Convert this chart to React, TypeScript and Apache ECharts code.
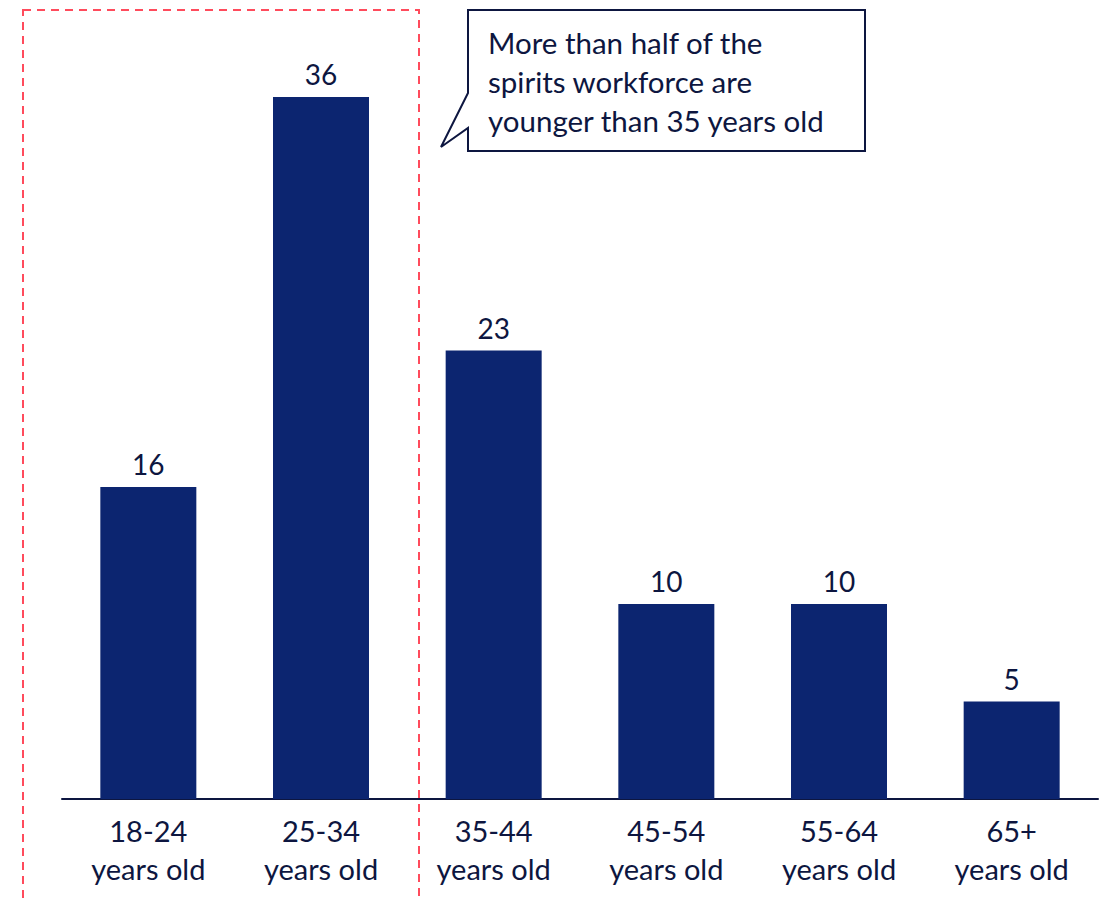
import React, { useEffect, useRef } from "react";
import * as echarts from "echarts";

// Share of the spirits workforce by age band (%)
const ageBands = ["18-24\nyears old", "25-34\nyears old", "35-44\nyears old", "45-54\nyears old", "55-64\nyears old", "65+\nyears old"];
const workforceShare = [16, 36, 23, 10, 10, 5];
const calloutLines = ["More than half of the", "spirits workforce are", "younger than 35 years old"];

const NAVY = "#0C2570";
const INK = "#0D1640";
const FONT = "Lato, 'Noto Sans', sans-serif";

export default function App() {
  const ref = useRef<HTMLDivElement>(null);

  useEffect(() => {
    if (!ref.current) return;
    const chart = echarts.init(ref.current, null, { renderer: "svg" });
    chart.setOption({
      animation: false,
      backgroundColor: "#ffffff",
      grid: { left: 62, right: 11, top: 97, bottom: 101, containLabel: false },
      xAxis: {
        type: "category",
        data: ageBands,
        axisLine: { lineStyle: { color: INK, width: 2 } },
        axisTick: { show: false },
        axisLabel: {
          color: INK,
          fontFamily: FONT,
          fontSize: 29,
          lineHeight: 38,
          margin: 12,
          interval: 0,
        },
      },
      yAxis: {
        type: "value",
        min: 0,
        max: 36,
        show: false,
        splitLine: { show: false },
      },
      series: [
        {
          type: "bar",
          data: workforceShare,
          barWidth: 96,
          itemStyle: { color: NAVY },
          label: {
            show: true,
            position: "top",
            distance: 8,
            color: INK,
            fontFamily: FONT,
            fontSize: 28,
            lineHeight: 30,
          },
        },
      ],
      graphic: [
        {
          type: "rect",
          shape: { x: 23, y: 10, width: 396, height: 1000 },
          style: { fill: "none", stroke: "#FF4B5C", lineWidth: 2, lineDash: [8, 6] },
          silent: true,
        },
        {
          type: "polygon",
          shape: {
            points: [
              [468, 10],
              [865, 10],
              [865, 151],
              [468, 151],
              [468, 128],
              [441, 147],
              [468, 93],
            ],
          },
          style: { fill: "#ffffff", stroke: INK, lineWidth: 2 },
          silent: true,
        },
        {
          type: "text",
          x: 488,
          y: 23,
          style: {
            text: calloutLines.join("\n"),
            fill: INK,
            font: `29.5px ${FONT}`,
            lineHeight: 39,
          },
          silent: true,
        },
      ],
    });
    return () => chart.dispose();
  }, []);

  return (
    <div
      ref={ref}
      style={{ position: "fixed", left: 0, top: 0, width: 1109, height: 900 }}
    />
  );
}
